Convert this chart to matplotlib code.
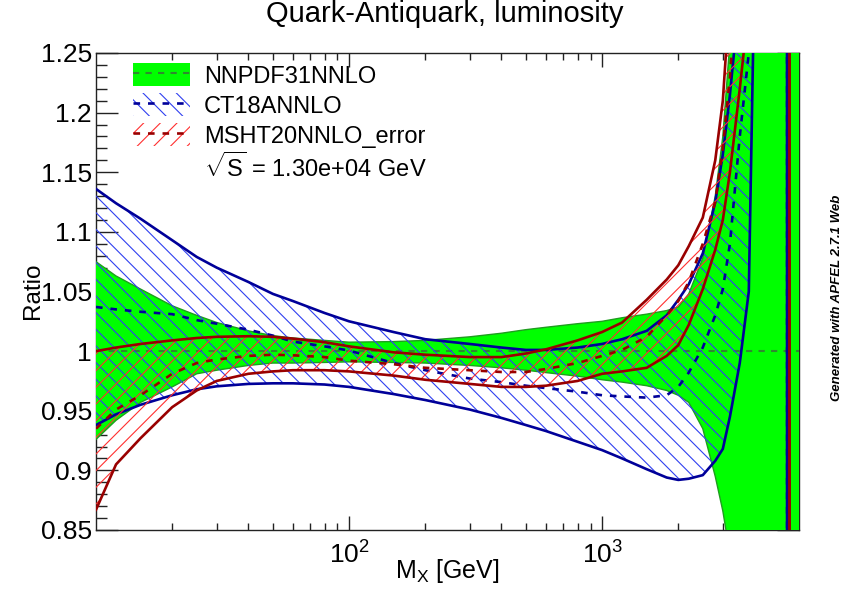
import numpy as np
import matplotlib
matplotlib.use('Agg')
import matplotlib.pyplot as plt
from matplotlib.patches import Patch
from matplotlib.lines import Line2D
from matplotlib.ticker import FixedLocator, NullFormatter, FuncFormatter, MultipleLocator

# ---------------- data ----------------
mass = [10, 12, 15, 20, 25, 30, 40, 50, 60, 80, 100, 150, 200, 300, 400, 500, 600,
        800, 1000, 1200, 1500, 1800, 2000, 2200, 2500, 2800, 3000, 3200, 3500, 3800,
        3950, 4000, 4500, 5000, 5380, 5400, 5500, 5520, 6000]

nnpdf_central = [1.0] * 39
nnpdf_upper = [1.075, 1.063, 1.052, 1.038, 1.030, 1.024, 1.017, 1.013, 1.011, 1.009, 1.0075,
               1.008, 1.009, 1.012, 1.015, 1.018, 1.020, 1.023, 1.025, 1.028, 1.031, 1.034,
               1.037, 1.048, 1.078, 1.130, 1.180, 1.260, 1.5, 2.0, 2.0, 2.0, 2.0, 2.0, 2.0,
               2.0, 2.0, 2.0, 2.0]
nnpdf_lower = [0.926, 0.942, 0.957, 0.970, 0.981, 0.984, 0.988, 0.990, 0.990, 0.9905, 0.991,
               0.9905, 0.990, 0.988, 0.986, 0.984, 0.982, 0.979, 0.976, 0.974, 0.971, 0.967,
               0.963, 0.957, 0.935, 0.895, 0.866, 0.830, 0.5, 0.0, 0.0, 0.0, 0.0, 0.0, 0.0,
               0.0, 0.0, 0.0, 0.0]

ct18_central = [1.037, 1.035, 1.033, 1.031, 1.026, 1.023, 1.018, 1.013, 1.008, 1.004, 1.0005,
                0.990, 0.984, 0.977, 0.974, 0.971, 0.969, 0.966, 0.963, 0.962, 0.961, 0.963,
                0.970, 0.982, 1.003, 1.030, 1.052, 1.090, 1.18, 1.25, 1.30, 1.32, 1.6, 2.0,
                3.0, -3.5, -3.5, -3.5, -3.5]
ct18_upper = [1.136, 1.124, 1.111, 1.093, 1.079, 1.070, 1.058, 1.048, 1.042, 1.032, 1.025,
              1.016, 1.010, 1.006, 1.003, 1.001, 1.001, 1.003, 1.006, 1.010, 1.017, 1.030,
              1.043, 1.056, 1.082, 1.125, 1.165, 1.215, 1.30, 1.40, 1.46, 1.50, 1.80, 2.50,
              4.00, -3.0, -3.0, -3.0, -3.0]
ct18_lower = [0.938, 0.947, 0.955, 0.963, 0.968, 0.9705, 0.9725, 0.973, 0.973, 0.972, 0.970,
              0.964, 0.959, 0.951, 0.944, 0.938, 0.933, 0.924, 0.917, 0.910, 0.901, 0.894,
              0.892, 0.893, 0.896, 0.908, 0.918, 0.945, 0.990, 1.050, 1.25, 1.45, 2.0, 2.4,
              3.5, -4.0, -4.0, -4.0, -4.0]

msht_central = [0.935, 0.951, 0.963, 0.981, 0.990, 0.993, 0.996, 0.997, 0.9965, 0.995, 0.992,
                0.989, 0.986, 0.984, 0.9825, 0.9825, 0.985, 0.990, 0.996, 1.001, 1.012, 1.030,
                1.042, 1.058, 1.090, 1.125, 1.170, 1.230, 1.35, 1.45, 1.5, 1.55, 1.9, 2.5,
                3.2, 3.3, 3.7, -3.5, -3.5]
msht_upper = [1.000, 1.003, 1.006, 1.009, 1.011, 1.012, 1.0125, 1.012, 1.0105, 1.0075, 1.004,
              0.999, 0.997, 0.995, 0.995, 0.998, 1.0015, 1.009, 1.016, 1.024, 1.043, 1.060,
              1.072, 1.088, 1.112, 1.160, 1.210, 1.300, 1.45, 1.6, 1.7, 1.75, 2.2, 2.8,
              3.5, 3.6, 4.0, -3.0, -3.0]
msht_lower = [0.867, 0.905, 0.927, 0.953, 0.967, 0.975, 0.981, 0.983, 0.984, 0.984, 0.983,
              0.9795, 0.976, 0.9725, 0.970, 0.970, 0.971, 0.975, 0.981, 0.983, 0.986, 0.996,
              1.005, 1.022, 1.052, 1.085, 1.110, 1.150, 1.220, 1.29, 1.33, 1.35, 1.7, 2.3,
              3.0, 3.1, 3.5, -4.0, -4.0]

labels = ['NNPDF31NNLO', 'CT18ANNLO', 'MSHT20NNLO_error']
energy_label = r'$\sqrt{\mathrm{S}}$ = 1.30e+04 GeV'
title = 'Quark-Antiquark, luminosity'
x_major = [100, 1000]
x_minor = [20, 30, 40, 50, 60, 70, 80, 90, 200, 300, 400, 500, 600, 700, 800, 900,
           2000, 3000, 4000, 5000]

# ---------------- style ----------------
plt.rcParams['font.family'] = ['Liberation Sans', 'DejaVu Sans']
plt.rcParams['mathtext.fontset'] = 'custom'
plt.rcParams['mathtext.rm'] = 'Liberation Sans'
plt.rcParams['mathtext.it'] = 'Liberation Sans:italic'
plt.rcParams['mathtext.bf'] = 'Liberation Sans:bold'
plt.rcParams['hatch.linewidth'] = 0.8

green_fill = '#00ff00'
green_edge = '#1e9e1e'
green_dash = '#2f8a2f'
blue_hatch = '#3040f0'
blue_line = '#000099'
red_hatch = '#ff3030'
red_line = '#990000'

W, H = 865, 590
fig = plt.figure(figsize=(W / 100, H / 100), dpi=100)
ax = fig.add_axes([96 / W, 1 - 530 / H, 703 / W, 477 / H])

m = np.array(mass, dtype=float)

# NNPDF band
ax.fill_between(m, nnpdf_lower, nnpdf_upper, facecolor=green_fill, edgecolor='none',
                linewidth=0, zorder=3)
ax.plot(m, nnpdf_upper, color=green_edge, lw=1.0, zorder=3.1)
ax.plot(m, nnpdf_lower, color=green_edge, lw=1.0, zorder=3.1)
ax.plot(m, nnpdf_central, color=green_dash, lw=1.5, ls=(0, (3, 3)), zorder=3.2)

# CT18 band
ax.fill_between(m, ct18_lower, ct18_upper, facecolor='none', edgecolor=blue_hatch,
                hatch='\\\\', linewidth=0, zorder=3.3)
ax.plot(m, ct18_upper, color=blue_line, lw=1.9, zorder=3.4)
ax.plot(m, ct18_lower, color=blue_line, lw=1.9, zorder=3.4)
ax.plot(m, ct18_central, color=blue_line, lw=1.9, ls=(0, (2.5, 3)), zorder=3.4)

# MSHT band
ax.fill_between(m, msht_lower, msht_upper, facecolor='none', edgecolor=red_hatch,
                hatch='//', linewidth=0, zorder=3.5)
ax.plot(m, msht_upper, color=red_line, lw=1.9, zorder=3.6)
ax.plot(m, msht_lower, color=red_line, lw=1.9, zorder=3.6)
ax.plot(m, msht_central, color=red_line, lw=1.9, ls=(0, (2.5, 3)), zorder=3.6)

# axes
ax.set_xscale('log')
ax.set_xlim(10, 6000)
ax.set_ylim(0.85, 1.25)
ax.xaxis.set_major_locator(FixedLocator(x_major))
ax.xaxis.set_minor_locator(FixedLocator(x_minor))
ax.xaxis.set_major_formatter(FuncFormatter(lambda v, p: r'$10^{%d}$' % round(np.log10(v))))
ax.xaxis.set_minor_formatter(NullFormatter())
ax.yaxis.set_major_locator(MultipleLocator(0.05))
ax.yaxis.set_minor_locator(MultipleLocator(0.01))
ax.yaxis.set_major_formatter(FuncFormatter(lambda v, p: '%g' % round(v, 2)))

ax.tick_params(which='both', direction='in', top=True, right=True, color='#222222', width=1.0)
ax.tick_params(axis='x', which='major', length=10, labelsize=19, pad=8)
ax.tick_params(axis='x', which='minor', length=5)
ax.tick_params(axis='y', which='major', length=15.5, labelsize=19, pad=3)
ax.tick_params(axis='y', which='minor', length=8)
for s in ax.spines.values():
    s.set_linewidth(1.0)
    s.set_color('#222222')

# legend
h_nn = (Patch(facecolor=green_fill, edgecolor='none'),
        Line2D([], [], color=green_dash, lw=1.5, ls=(0, (3, 3))))
h_ct = (Patch(facecolor='none', edgecolor=blue_hatch, hatch='\\\\', linewidth=0),
        Line2D([], [], color=blue_line, lw=1.9, ls=(0, (2.5, 3))))
h_ms = (Patch(facecolor='none', edgecolor=red_hatch, hatch='//', linewidth=0),
        Line2D([], [], color=red_line, lw=1.9, ls=(0, (2.5, 3))))
h_e = Line2D([], [], color='none')
leg = ax.legend([h_nn, h_ct, h_ms, h_e], labels + [energy_label],
                loc='upper left', bbox_to_anchor=((133 - 96) / 703, 1 - (63 - 53) / 477),
                frameon=False, fontsize=17, handlelength=2.4, handleheight=1.15,
                handletextpad=0.6, labelspacing=0.22, borderpad=0, borderaxespad=0)
leg.set_zorder(10)

# texts
fig.text(445 / W, 1 - 14 / H, title, ha='center', va='center', fontsize=21)
fig.text(33 / W, 1 - 291 / H, 'Ratio', rotation=90, ha='center', va='center', fontsize=17.5)
fig.text(447 / W, 1 - 571 / H, r'M$_{\mathrm{X}}$ [GeV]', ha='center', va='center', fontsize=18)
fig.text(837 / W, 1 - 298 / H, 'Generated with APFEL 2.7.1 Web', rotation=90,
         ha='center', va='center', fontsize=9.5, fontweight='bold', fontstyle='italic')

fig.savefig('out.png', dpi=100)
